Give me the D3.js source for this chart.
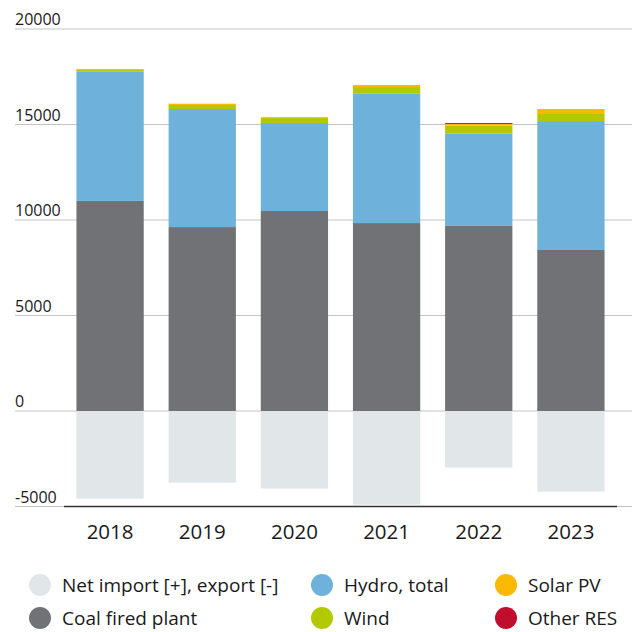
<!DOCTYPE html>
<html>
<head>
<meta charset="utf-8">
<script src="https://cdn.jsdelivr.net/npm/d3@7"></script>
<style>
  body { margin: 0; background: #fff; }
  svg { display: block; font-family: "Open Sans", sans-serif; }
</style>
</head>
<body>
<svg id="chart" width="632" height="632"></svg>
<script>
// Electricity balance by source, GWh

var years = ["2018", "2019", "2020", "2021", "2022", "2023"];
var netImport = [-4590, -3750, -4060, -4900, -2960, -4220];
var coal = [11000, 9630, 10470, 9840, 9690, 8430];
var hydro = [6760, 6180, 4610, 6770, 4830, 6750];
var wind = [100, 210, 280, 350, 420, 370];
var solar = [45, 70, 35, 105, 90, 260];
var otherRes = [0, 0, 0, 0, 50, 0];

var yTicks = [-5000, 0, 5000, 10000, 15000, 20000];

var seriesNames = ["Net import [+], export [-]", "Coal fired plant", "Hydro, total", "Wind", "Solar PV", "Other RES"];
var seriesColors = ["#e1e6e9", "#717275", "#6eb1db", "#b2c900", "#fab800", "#c10e2e"];

///////////////////////////////////////////////////////////////////////////////
// Scales

var svg = d3.select("#chart");

var x = d3.scaleBand()
  .domain(years)
  .range([64, 617])
  .paddingInner(0.27)
  .paddingOuter(0.135);

var y = d3.scaleLinear()
  .domain([-5000, 20000])
  .range([506.5, 29]);

///////////////////////////////////////////////////////////////////////////////
// Grid + labels

var grid = svg.append("g");
grid.selectAll("line")
  .data(yTicks)
  .enter().append("line")
  .attr("x1", 15)
  .attr("x2", 632)
  .attr("y1", function (d) { return y(d); })
  .attr("y2", function (d) { return y(d); })
  .attr("stroke", "#c4c4c4")
  .attr("stroke-width", 1);

grid.selectAll("text")
  .data(yTicks)
  .enter().append("text")
  .attr("x", 15)
  .attr("y", function (d) { return y(d) - 4; })
  .attr("font-size", 16)
  .attr("fill", "#1a1a1a")
  .text(function (d) { return d; });

///////////////////////////////////////////////////////////////////////////////
// Stacked bars

var rows = years.map(function (yr, i) {
  return { year: yr, coal: coal[i], hydro: hydro[i], wind: wind[i], solar: solar[i], other: otherRes[i] };
});
var keys = ["coal", "hydro", "wind", "solar", "other"];
var stack = d3.stack().keys(keys)(rows);

var bars = svg.append("g");

// negative part first (net export)
bars.selectAll("rect.net")
  .data(netImport)
  .enter().append("rect")
  .attr("class", "net")
  .attr("x", function (d, i) { return x(years[i]); })
  .attr("width", x.bandwidth())
  .attr("y", function (d) { return y(Math.max(0, d)); })
  .attr("height", function (d) { return Math.abs(y(d) - y(0)); })
  .attr("fill", seriesColors[0]);

stack.forEach(function (layer, k) {
  bars.selectAll("rect.s" + k)
    .data(layer)
    .enter().append("rect")
    .attr("class", "s" + k)
    .attr("x", function (d) { return x(d.data.year); })
    .attr("width", x.bandwidth())
    .attr("y", function (d) { return y(d[1]); })
    .attr("height", function (d) { return y(d[0]) - y(d[1]); })
    .attr("fill", seriesColors[k + 1]);
});

// bottom axis
svg.append("line")
  .attr("x1", 64).attr("x2", 617)
  .attr("y1", y(-5000)).attr("y2", y(-5000))
  .attr("stroke", "#333")
  .attr("stroke-width", 1.5);

svg.append("g").selectAll("text")
  .data(years)
  .enter().append("text")
  .attr("x", function (d) { return x(d) + x.bandwidth() / 2; })
  .attr("y", 539)
  .attr("text-anchor", "middle")
  .attr("font-size", 20.5)
  .attr("fill", "#1a1a1a")
  .text(function (d) { return d; });

///////////////////////////////////////////////////////////////////////////////
// Legend

var legendPos = [
  { cx: 40, cy: 585 }, { cx: 40, cy: 618 },
  { cx: 322, cy: 585 }, { cx: 322, cy: 618 },
  { cx: 506, cy: 585 }, { cx: 506, cy: 618 }
];

var legend = svg.append("g").selectAll("g")
  .data(seriesNames)
  .enter().append("g")
  .attr("transform", function (d, i) {
    return "translate(" + legendPos[i].cx + "," + legendPos[i].cy + ")";
  });

legend.append("circle")
  .attr("r", 11)
  .attr("fill", function (d, i) { return seriesColors[i]; });

legend.append("text")
  .attr("x", 22)
  .attr("y", 6.8)
  .attr("font-size", 19)
  .attr("fill", "#1a1a1a")
  .text(function (d) { return d; });
</script>
</body>
</html>
